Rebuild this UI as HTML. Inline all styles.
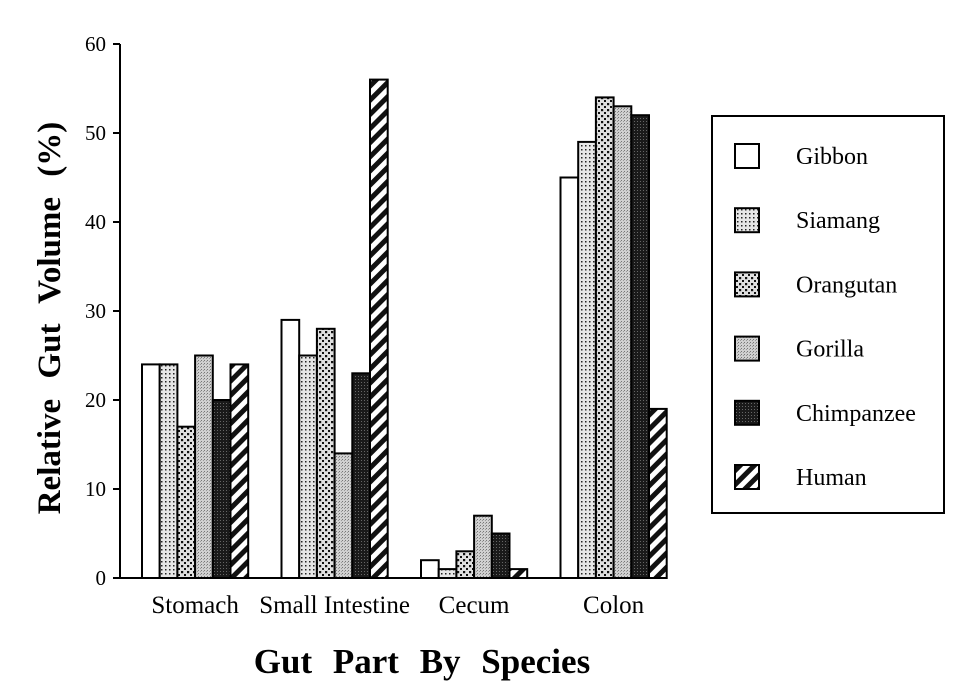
<!DOCTYPE html>
<html><head><meta charset="utf-8"><style>
html,body{margin:0;padding:0;background:#fff;}
svg{display:block;font-family:"Liberation Serif",serif;}
</style></head><body>
<svg id="chart" width="967" height="693" viewBox="0 0 967 693">
<defs>
<pattern id="p1" width="4" height="4" patternUnits="userSpaceOnUse"><rect width="4" height="4" fill="#e6e6e6"/><rect x="1" y="1" width="1.5" height="1.5" fill="#222"/></pattern>
<pattern id="p2" width="6" height="6" patternUnits="userSpaceOnUse"><rect width="6" height="6" fill="#e0e0e0"/><rect x="1" y="1" width="2.2" height="2.2" fill="#111"/><rect x="4" y="4" width="2" height="2" fill="#111"/></pattern>
<pattern id="p3" width="3" height="3" patternUnits="userSpaceOnUse"><rect width="3" height="3" fill="#d0d0d0"/><rect x="0" y="0" width="1" height="1" fill="#777"/><rect x="2" y="1" width="1" height="1" fill="#999"/></pattern>
<pattern id="p4" width="3" height="3" patternUnits="userSpaceOnUse"><rect width="3" height="3" fill="#1a1a1a"/><rect x="1" y="1" width="1" height="1" fill="#666"/></pattern>
<pattern id="p5" width="10" height="10" patternUnits="userSpaceOnUse" patternTransform="rotate(45)"><rect width="10" height="10" fill="#fff"/><rect width="5" height="10" fill="#111"/></pattern>
</defs>
<g id="plot"></g>
<text x="0" y="0" transform="translate(60,318) rotate(-90)" text-anchor="middle" font-size="33" font-weight="bold" word-spacing="12">Relative Gut Volume (%)</text>
<text x="422" y="673" text-anchor="middle" font-size="35" font-weight="bold" word-spacing="12">Gut Part By Species</text>
<g id="legend">
<rect x="712" y="116" width="232" height="397" fill="#fff" stroke="#000" stroke-width="2"/>
</g>
</svg>
<script>
const categories = ["Stomach", "Small Intestine", "Cecum", "Colon"];
const species = ["Gibbon", "Siamang", "Orangutan", "Gorilla", "Chimpanzee", "Human"];
const gibbon = [24, 29, 2, 45];
const siamang = [24, 25, 1, 49];
const orangutan = [17, 28, 3, 54];
const gorilla = [25, 14, 7, 53];
const chimpanzee = [20, 23, 5, 52];
const human = [24, 56, 1, 19];
const yTicks = [0, 10, 20, 30, 40, 50, 60];

const series = [gibbon, siamang, orangutan, gorilla, chimpanzee, human];
const fills = ["#fff", "url(#p1)", "url(#p2)", "url(#p3)", "url(#p4)", "url(#p5)"];
const NS = "http://www.w3.org/2000/svg";
const plot = document.getElementById("plot");
const y0 = 578, yTop = 44, yMax = 60;
const yScale = v => y0 - v / yMax * (y0 - yTop);
const groupStart = i => 142 + i * 139.5;
const bw = 17.7;
function mk(tag, attrs, parent) {
  const e = document.createElementNS(NS, tag);
  for (const k in attrs) e.setAttribute(k, attrs[k]);
  parent.appendChild(e);
  return e;
}
let a = mk("line", {x1:120, y1:yTop, x2:120, y2:y0, stroke:"#000", "stroke-width":2}, plot);


a = mk("line", {x1:119, y1:y0, x2:667, y2:y0, stroke:"#000", "stroke-width":2}, plot);


yTicks.forEach(t => {
  const y = yScale(t);
  const l = mk("line", {x1:113, y1:y, x2:120, y2:y, stroke:"#000", "stroke-width":2}, plot);
  
  
  const tx = mk("text", {x:106, y:y+7, "text-anchor":"end", "font-size":21}, plot);
  tx.textContent = t;
  
  
});
categories.forEach((c, i) => {
  series.forEach((s, j) => {
    const x = groupStart(i) + j * bw;
    const y = yScale(s[i]);
    const r = mk("rect", {x:x, y:y, width:bw, height:y0 - y, fill:fills[j], stroke:"#000", "stroke-width":2}, plot);
    
    
  });
  const tx = mk("text", {x:groupStart(i) + 3 * bw, y:613, "text-anchor":"middle", "font-size":25}, plot);
  tx.textContent = c;
  
  
});
const lg = document.getElementById("legend");
species.forEach((s, j) => {
  const cy = 156 + j * 64.2;
  const r = mk("rect", {x:735, y:cy - 12, width:24, height:24, fill:fills[j], stroke:"#000", "stroke-width":2}, lg);
  
  
  const t = mk("text", {x:796, y:cy + 8, "font-size":24}, lg);
  t.textContent = s;
  
  
});
</script>
</body></html>
